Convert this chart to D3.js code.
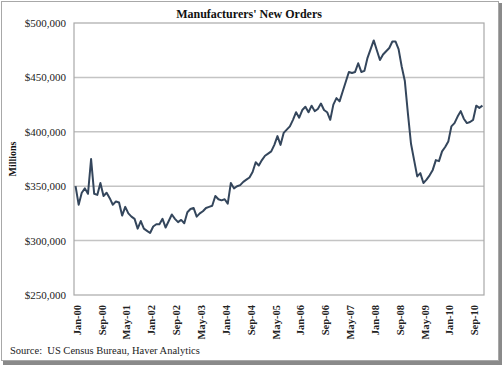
<!DOCTYPE html>
<html><head><meta charset="utf-8">
<script src="https://cdn.jsdelivr.net/npm/d3@7/dist/d3.min.js"></script>
<style>
html,body{margin:0;padding:0;background:#fff;}
svg{display:block;}
</style></head>
<body>
<svg id="c" width="504" height="367"></svg>
<script>
// Monthly manufacturers' new orders, $ millions, Jan-2000 .. Dec-2010
const months = d3.range(132).map(i => new Date(2000, i, 1));
const orders = [
 350,333,344,348,343,375,343,342,353,341,344,339,
 333,336,335,323,331,325,322,320,311,318,311,309,
 307,313,315,315,320,312,318,324,320,317,319,316,
 326,329,330,322,325,327,330,331,332,341,338,337,
 338,334,353,348,350,351,354,356,358,363,372,369,
 374,378,380,382,388,396,388,399,402,405,411,418,
 413,420,423,418,424,419,421,426,420,418,411,425,
 431,428,437,446,455,454,455,463,455,456,468,476,
 484,475,466,471,474,477,483,483,476,460,447,417,
 389,374,359,362,353,356,360,365,374,373,382,386,
 391,405,408,414,419,412,408,409,411,424,422,424
].map(v => v * 1000);
const yTicks = [250000, 300000, 350000, 400000, 450000, 500000];
const title = "Manufacturers' New Orders";
const yTitle = "Millions";
const source = "Source:  US Census Bureau, Haver Analytics";

const svg = d3.select("#c");
const serif = "'Liberation Serif','Times New Roman',serif";

// outer frame with shadow
svg.append("rect").attr("x",3).attr("y",3).attr("width",499).attr("height",362).attr("fill","#8a8a8a");
svg.append("rect").attr("x",1.5).attr("y",1.5).attr("width",497).attr("height",359)
  .attr("fill","#fff").attr("stroke","#a8a8a8").attr("stroke-width",1);

const L = 74, R = 484, T = 23, B = 295;
const labels = months.map(d3.timeFormat("%b-%y"));
const x = d3.scaleBand().domain(labels).range([L, R]);
const y = d3.scaleLinear().domain([250000, 500000]).range([B, T]);
const fmt = v => "$" + d3.format(",")(v);

// gridlines
svg.append("g").selectAll("line").data(yTicks.slice(1, -1)).join("line")
  .attr("x1", L).attr("x2", R).attr("y1", d => y(d)).attr("y2", d => y(d))
  .attr("stroke", "#c4c4c4").attr("stroke-width", 1.5);

// plot border
svg.append("rect").attr("x", L).attr("y", T).attr("width", R - L).attr("height", B - T)
  .attr("fill", "none").attr("stroke", "#a9a9a9").attr("stroke-width", 1.2);

// y axis labels
const yAxis = d3.axisLeft(y).tickValues(yTicks).tickFormat(fmt).tickSize(0).tickPadding(8);
const gy = svg.append("g").attr("transform", `translate(${L},0)`).call(yAxis);
gy.select(".domain").remove();
gy.selectAll("text").attr("font-family", serif).attr("font-size", 11).attr("fill", "#222");

// x axis labels
const xTickVals = labels.filter((d, i) => i % 8 === 0);
const xAxis = d3.axisBottom(x).tickValues(xTickVals).tickSize(0).tickPadding(0);
const gx = svg.append("g").attr("transform", `translate(0,${B})`).call(xAxis);
gx.select(".domain").remove();
gx.selectAll("text").attr("font-family", serif).attr("font-size", 10.5).attr("font-weight", "bold")
  .attr("fill", "#222")
  .attr("transform", "rotate(-90)").attr("text-anchor", "end")
  .attr("x", -10).attr("y", 0).attr("dy", "0.35em")
  .attr("dx", 0);
gx.selectAll(".tick").each(function(){
  const t = d3.select(this);
  const m = /translate\(([-\d.]+)/.exec(t.attr("transform"));
  t.attr("transform", `translate(${+m[1] + 1.5},0)`);
});

// line
const line = d3.line().x((d, i) => x(labels[i]) + x.bandwidth() / 2).y(d => y(d));
svg.append("path").datum(orders).attr("d", line)
  .attr("fill", "none").attr("stroke", "#34465c").attr("stroke-width", 2)
  .attr("stroke-linejoin", "round");

// title
svg.append("text").attr("x", 249).attr("y", 18).attr("text-anchor", "middle")
  .attr("font-family", serif).attr("font-size", 12).attr("font-weight", "bold").attr("fill", "#111")
  .text(title);

// y title
svg.append("text").attr("transform", "translate(16,159) rotate(-90)").attr("text-anchor", "middle")
  .attr("font-family", serif).attr("font-size", 10).attr("font-weight", "bold").attr("fill", "#111")
  .text(yTitle);

// source
svg.append("text").attr("x", 10).attr("y", 354)
  .attr("font-family", serif).attr("font-size", 10.5).attr("fill", "#222")
  .attr("xml:space", "preserve").style("white-space", "pre")
  .text(source);
</script>
</body></html>
